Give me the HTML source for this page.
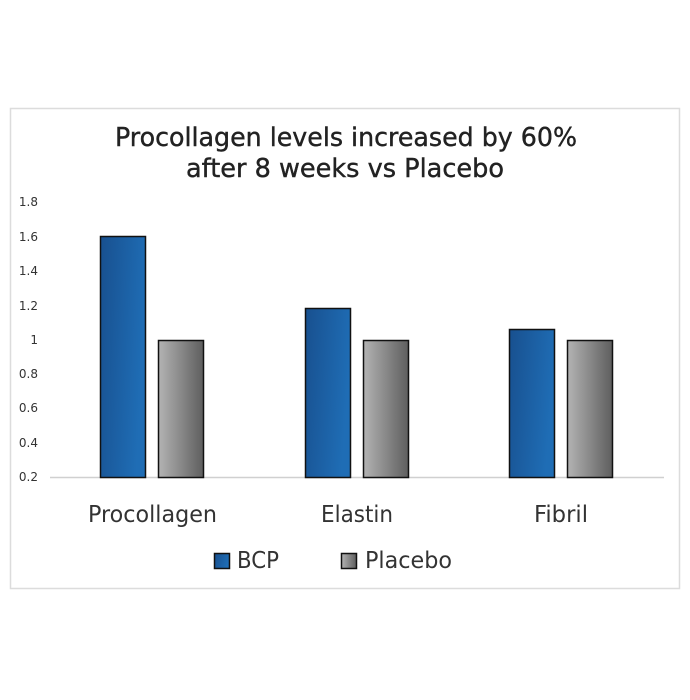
<!DOCTYPE html>
<html>
<head>
<meta charset="utf-8">
<style>
html,body{margin:0;padding:0;background:#fff;}
svg{display:block;}
text{font-family:"DejaVu Sans","Liberation Sans",sans-serif;fill:#333;}
</style>
</head>
<body>
<svg width="690" height="700" viewBox="0 0 690 700" xmlns="http://www.w3.org/2000/svg">
<defs>
<linearGradient id="blue" x1="0" y1="0" x2="1" y2="0.3">
<stop offset="0" stop-color="#18508f"/>
<stop offset="1" stop-color="#1f6db5"/>
</linearGradient>
<linearGradient id="gray" x1="0" y1="0" x2="1" y2="0">
<stop offset="0" stop-color="#b3b3b3"/>
<stop offset="1" stop-color="#5e5e5e"/>
</linearGradient>
</defs>
<rect x="0" y="0" width="690" height="700" fill="#fff"/>
<rect x="10.5" y="108.5" width="669" height="480" fill="#fff" stroke="#dcdcdc" stroke-width="1.5"/>

<text x="346" y="146" font-size="26" text-anchor="middle" textLength="462" lengthAdjust="spacingAndGlyphs" style="fill:#222;stroke:#222;stroke-width:0.4">Procollagen levels increased by 60%</text>
<text x="345" y="177" font-size="26" text-anchor="middle" textLength="318" lengthAdjust="spacingAndGlyphs" style="fill:#222;stroke:#222;stroke-width:0.4">after 8 weeks vs Placebo</text>

<g font-size="12" text-anchor="end" style="fill:#444;font-family:'DejaVu Serif','Liberation Serif',serif">
<text x="38" y="206">1.8</text>
<text x="38" y="241">1.6</text>
<text x="38" y="275">1.4</text>
<text x="38" y="310">1.2</text>
<text x="38" y="344">1</text>
<text x="38" y="378">0.8</text>
<text x="38" y="412">0.6</text>
<text x="38" y="447">0.4</text>
<text x="38" y="481">0.2</text>
</g>

<line x1="50" y1="477.5" x2="664" y2="477.5" stroke="#d0d0d0" stroke-width="1.5"/>

<g stroke="#111" stroke-width="1.5">
<rect x="100.5" y="236.5" width="45" height="241" fill="url(#blue)"/>
<rect x="158.5" y="340.5" width="45" height="137" fill="url(#gray)"/>
<rect x="305.5" y="308.5" width="45" height="169" fill="url(#blue)"/>
<rect x="363.5" y="340.5" width="45" height="137" fill="url(#gray)"/>
<rect x="509.5" y="329.5" width="45" height="148" fill="url(#blue)"/>
<rect x="567.5" y="340.5" width="45" height="137" fill="url(#gray)"/>
</g>

<g font-size="23" style="fill:#333">
<text x="88" y="522" textLength="129" lengthAdjust="spacingAndGlyphs">Procollagen</text>
<text x="321" y="522" textLength="72" lengthAdjust="spacingAndGlyphs">Elastin</text>
<text x="534" y="522" textLength="54" lengthAdjust="spacingAndGlyphs">Fibril</text>
</g>

<rect x="214.5" y="553.5" width="15" height="15" fill="url(#blue)" stroke="#111" stroke-width="1.5"/>
<text x="237" y="568" font-size="23" textLength="42" lengthAdjust="spacingAndGlyphs" style="fill:#333">BCP</text>
<rect x="341.5" y="553.5" width="15" height="15" fill="url(#gray)" stroke="#111" stroke-width="1.5"/>
<text x="365" y="568" font-size="23" textLength="87" lengthAdjust="spacingAndGlyphs" style="fill:#333">Placebo</text>
</svg>
</body>
</html>
